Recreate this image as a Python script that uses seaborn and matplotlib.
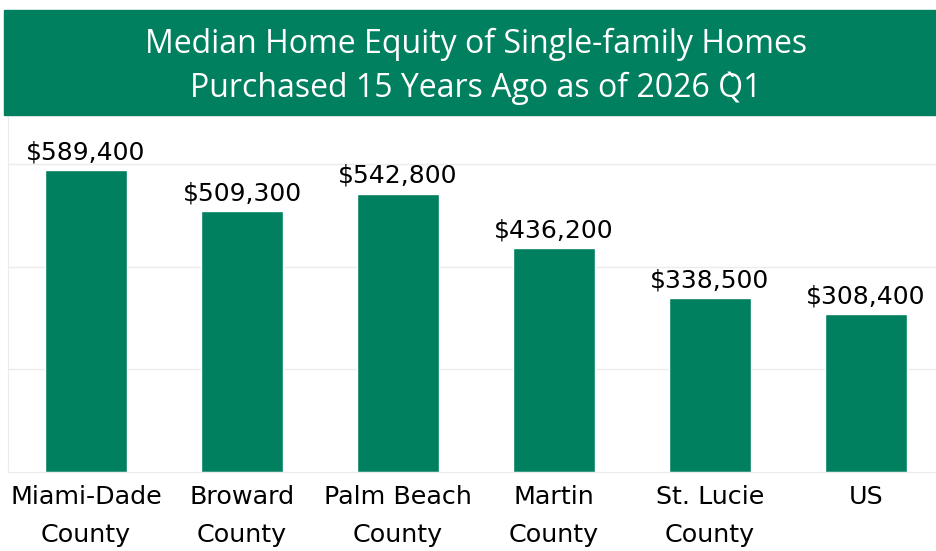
import matplotlib
matplotlib.use("Agg")
import matplotlib.pyplot as plt
from matplotlib.patches import Rectangle
import seaborn as sns
import pandas as pd

# data
counties = ["Miami-Dade\nCounty", "Broward\nCounty", "Palm Beach\nCounty",
            "Martin\nCounty", "St. Lucie\nCounty", "US"]
equity = [589400, 509300, 542800, 436200, 338500, 308400]
title = "Median Home Equity of Single-family Homes\nPurchased 15 Years Ago as of 2026 Q̀1"

green = "#00805F"
grid_col = "#ebebeb"

sns.set_style("white")
plt.rcParams['font.family'] = ['DejaVu Sans']

df = pd.DataFrame({"county": counties, "equity": equity})

fig = plt.figure(figsize=(9.37, 5.51), dpi=100)
ax = fig.add_axes([8/937, 79/551, 936/937, 355/551])

sns.barplot(data=df, x="county", y="equity", color=green, width=0.53,
            saturation=1, ax=ax)

ax.set_ylim(0, 692000)
ax.set_xlim(-0.5, 5.5)
ax.set_yticks([200000, 400000, 600000])
ax.yaxis.grid(True, color=grid_col, lw=1)
ax.set_axisbelow(True)
ax.tick_params(axis="y", left=False, labelleft=False)
ax.set_xlabel("")
ax.set_ylabel("")
for s in ["top", "right"]:
    ax.spines[s].set_visible(False)
ax.spines["left"].set_color(grid_col)
ax.spines["bottom"].set_color(grid_col)

# category separators below baseline
ax.set_xticks([i - 0.5 for i in range(7)], minor=True)
ax.tick_params(axis="x", which="minor", length=6, color=grid_col, width=1)
ax.tick_params(axis="x", which="major", length=0, labelsize=18.3, pad=9,
               labelcolor="black")
for lab in ax.get_xticklabels():
    lab.set_linespacing(1.75)

ax.bar_label(ax.containers[0], labels=[f"${v:,.0f}" for v in equity],
             fontsize=18, padding=4, color="black")

# title banner
fig.add_artist(Rectangle((4/937, 436/551), 933/937, 105/551,
                         transform=fig.transFigure, color=green, zorder=0))
fig.text(476/937, 485/551, title, ha="center", va="center", color="white",
         fontsize=23, family=["Open Sans", "DejaVu Sans"], linespacing=1.42)

fig.savefig("out.png", dpi=100)
